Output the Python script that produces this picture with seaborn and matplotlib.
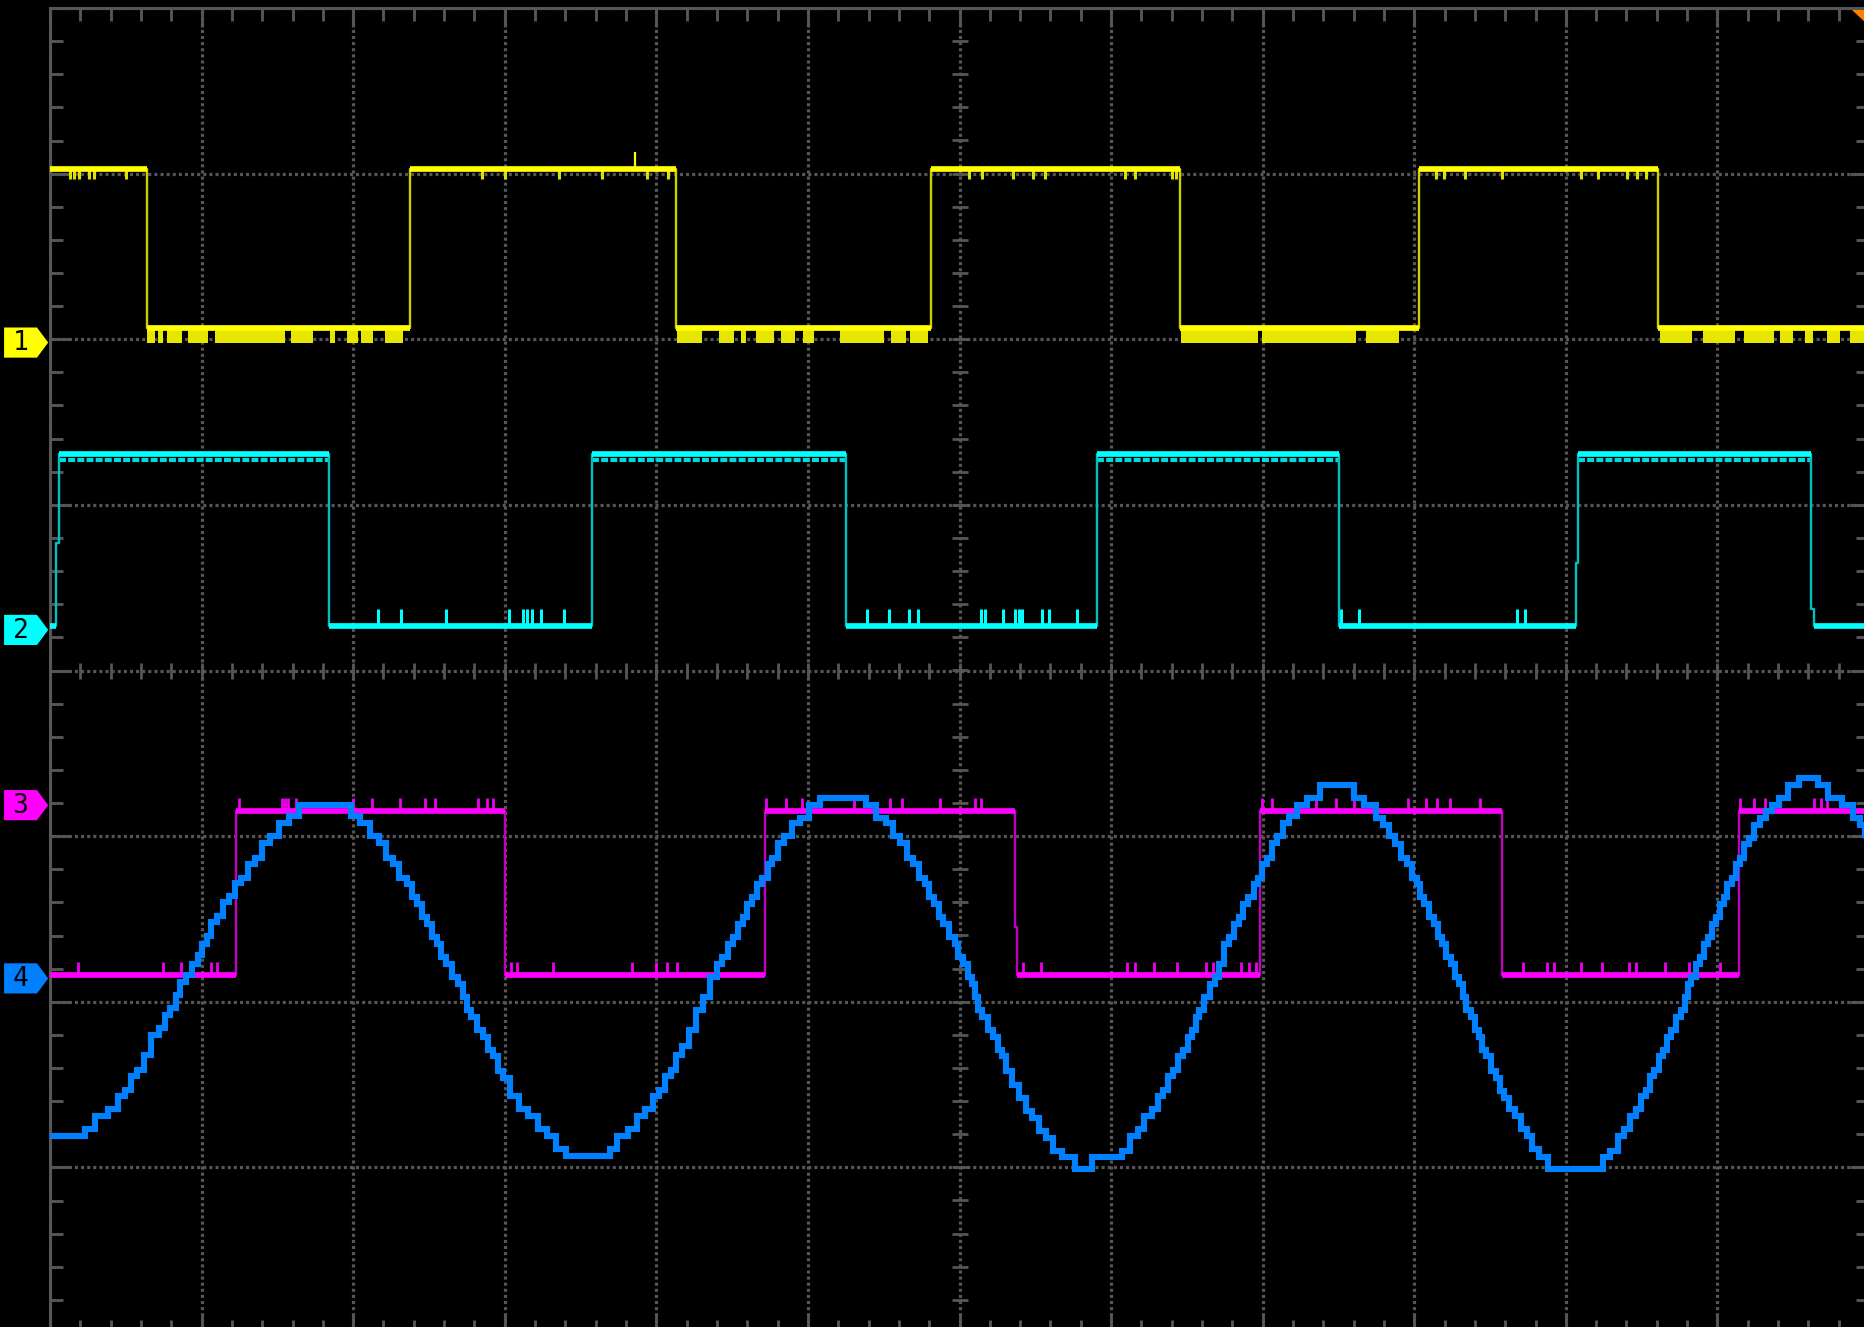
import numpy as np
import pandas as pd
import matplotlib
matplotlib.use("Agg")
import matplotlib.pyplot as plt
from matplotlib.patches import Polygon
from matplotlib.ticker import MultipleLocator
import seaborn as sns

# ---------------- data (screen divisions: x 0..12, y -4..4) ----------------
# CH1 (yellow): level i holds from edge i to edge i+1
ch1_edges = [0.0, 0.64, 2.375, 4.13, 5.814, 7.454, 9.031, 10.605, 12.0]
ch1_levels = [3.03, 2.07, 3.03, 2.07, 3.03, 2.07, 3.03, 2.07]
ch1_high_spikes = [0.13, 0.16, 0.19, 0.26, 0.29, 0.50, 2.85, 3.0, 3.36, 3.64, 3.94,
                   4.08, 6.06, 6.15, 6.356, 6.485, 6.567, 7.093, 7.155, 7.40, 7.43,
                   9.144, 9.196, 9.335, 9.582, 10.098, 10.21, 10.402, 10.469, 10.531]
ch1_up_glitch = [3.86]
ch1_low_noise = [[0.64, 0.693], [0.712, 0.745], [0.772, 0.871], [0.910, 1.042],
                 [1.088, 1.55], [1.59, 1.735], [1.847, 1.88], [1.959, 2.032],
                 [2.051, 2.131], [2.21, 2.328],
                 [4.134, 4.299], [4.412, 4.515], [4.557, 4.593], [4.66, 4.773],
                 [4.825, 4.918], [4.969, 5.041], [5.211, 5.505], [5.546, 5.649],
                 [5.675, 5.794],
                 [7.464, 7.969], [7.995, 8.613], [8.68, 8.897],
                 [10.624, 10.83], [10.902, 11.113], [11.175, 11.371], [11.412, 11.5],
                 [11.577, 11.629], [11.722, 11.809], [11.876, 11.98]]

# CH2 (cyan)
ch2_edges = [0.0, 0.038, 0.061, 1.838, 3.576, 5.253, 6.908, 8.505, 10.064, 10.079,
             11.619, 11.638, 12.0]
ch2_levels = [0.27, 0.77, 1.31, 0.27, 1.31, 0.27, 1.31, 0.27, 0.65, 1.31, 0.37, 0.27]
ch2_low_spikes = [2.167, 2.316, 2.615, 3.025, 3.12, 3.15, 3.18, 3.239, 3.392, 5.39,
                  5.532, 5.666, 5.727, 6.14, 6.17, 6.288, 6.364, 6.39, 6.414, 6.547,
                  6.592, 6.775, 8.52, 8.638, 9.676, 9.729]

# CH3 (magenta)
ch3_edges = [0.0, 1.227, 3.003, 4.72, 6.364, 6.378, 7.981, 9.577, 11.143, 12.0]
ch3_levels = [-1.84, -0.85, -1.84, -0.85, -1.55, -1.84, -0.85, -1.84, -0.85]
ch3_high_spikes = [1.248, 1.53, 1.55, 1.57, 1.62, 2.0, 2.124, 2.307, 2.477, 2.539,
                   2.825, 2.881, 2.922, 4.725, 4.854, 4.962, 5.305, 5.542, 5.623,
                   5.871, 6.102, 6.143, 7.995, 8.062, 8.353, 8.485, 8.603, 8.96,
                   9.078, 9.147, 9.238, 9.432, 11.15, 11.24, 11.316, 11.64, 11.684,
                   11.72, 11.81]
ch3_low_spikes = [0.186, 0.746, 0.864, 1.059, 1.099, 3.04, 3.081, 3.318, 3.838, 4.0,
                  4.073, 4.135, 6.42, 6.539, 7.105, 7.159, 7.280, 7.437, 7.623, 7.671,
                  7.86, 7.908, 7.954, 9.72, 9.879, 9.919, 10.1, 10.24, 10.42, 10.46,
                  10.656, 10.81, 11.02]

# CH4 (blue) sampled trace
ch4_t = [0.0, 0.205, 0.259, 0.340, 0.420, 0.474, 0.515, 0.555, 0.596, 0.642, 0.690,
         0.744, 0.776, 0.811, 0.846, 0.873, 0.919, 0.960, 0.987, 1.022, 1.049, 1.081,
         1.121, 1.162, 1.202, 1.243, 1.283, 1.323, 1.377, 1.418, 1.485, 1.539, 1.620,
         1.660, 1.809, 1.957, 2.011, 2.078, 2.146, 2.199, 2.240, 2.280, 2.329, 2.375,
         2.402, 2.442, 2.469, 2.509, 2.536, 2.571, 2.590, 2.631, 2.671, 2.712, 2.733,
         2.765, 2.792, 2.841, 2.873, 2.906, 2.941, 2.968, 3.008, 3.062, 3.129, 3.183,
         3.251, 3.305, 3.372, 3.439, 3.561, 3.682, 3.709, 3.776, 3.844, 3.898, 3.951,
         4.005, 4.032, 4.086, 4.113, 4.140,
         4.194, 4.234, 4.288, 4.329, 4.383, 4.423, 4.450, 4.491, 4.518, 4.558, 4.585,
         4.612, 4.652, 4.674, 4.720, 4.747, 4.782, 4.827, 4.863, 4.922, 4.976, 5.043,
         5.111, 5.230, 5.353, 5.407, 5.488, 5.542, 5.582, 5.636, 5.677, 5.704, 5.757,
         5.784, 5.811, 5.852, 5.871, 5.906, 5.960, 5.978, 6.008, 6.040, 6.075, 6.094,
         6.113, 6.135, 6.167, 6.210, 6.237, 6.270, 6.296, 6.323, 6.372, 6.418, 6.458,
         6.499, 6.553, 6.593, 6.647, 6.701, 6.822, 6.930, 7.051, 7.092, 7.159, 7.199,
         7.240, 7.294, 7.321, 7.361, 7.388, 7.429, 7.456, 7.488, 7.523, 7.550, 7.569,
         7.590, 7.631, 7.671, 7.698, 7.725, 7.765, 7.792, 7.827, 7.859, 7.886, 7.927,
         7.954, 7.981, 8.008, 8.048, 8.075, 8.116, 8.156, 8.197, 8.251, 8.332,
         8.418, 8.584, 8.620, 8.715, 8.774, 8.810, 8.857, 8.893, 8.929, 8.969, 9.007,
         9.029, 9.048, 9.083, 9.112, 9.143, 9.173, 9.195, 9.226, 9.254, 9.280, 9.309,
         9.333, 9.352, 9.392, 9.411, 9.439, 9.456, 9.487, 9.523, 9.551, 9.582, 9.606,
         9.641, 9.689, 9.724, 9.760, 9.796, 9.855, 9.914, 10.075, 10.235, 10.259,
         10.318, 10.366, 10.401, 10.444, 10.485, 10.508, 10.544, 10.563, 10.603,
         10.627, 10.658, 10.675, 10.710, 10.746, 10.770, 10.800, 10.817, 10.841,
         10.876, 10.900, 10.924, 10.948, 10.979, 11.007, 11.031, 11.055, 11.078,
         11.114, 11.133, 11.166, 11.190, 11.228, 11.257, 11.304, 11.340, 11.375,
         11.435, 11.494, 11.589, 11.637, 11.684, 11.778, 11.862, 11.921, 11.957, 11.985]
ch4_v = [-2.81, -2.81, -2.77, -2.69, -2.65, -2.57, -2.53, -2.45, -2.41, -2.32, -2.20,
         -2.16, -2.08, -2.04, -1.96, -1.88, -1.84, -1.77, -1.72, -1.65, -1.60, -1.52,
         -1.48, -1.40, -1.36, -1.28, -1.25, -1.17, -1.13, -1.04, -1.00, -0.92, -0.88,
         -0.81, -0.81, -0.81, -0.88, -0.92, -1.00, -1.04, -1.13, -1.17, -1.25, -1.29,
         -1.37, -1.41, -1.49, -1.53, -1.61, -1.65, -1.73, -1.77, -1.85, -1.89, -1.97,
         -2.05, -2.09, -2.17, -2.21, -2.29, -2.33, -2.42, -2.46, -2.57, -2.65, -2.69,
         -2.77, -2.81, -2.89, -2.93, -2.93, -2.93, -2.89, -2.81, -2.77, -2.69, -2.65,
         -2.57, -2.53, -2.45, -2.41, -2.32,
         -2.27, -2.17, -2.05, -1.97, -1.85, -1.77, -1.73, -1.65, -1.61, -1.53, -1.49,
         -1.41, -1.37, -1.29, -1.25, -1.17, -1.13, -1.04, -1.00, -0.92, -0.89, -0.81,
         -0.77, -0.77, -0.77, -0.81, -0.89, -0.92, -1.00, -1.04, -1.13, -1.17, -1.25,
         -1.29, -1.37, -1.41, -1.49, -1.53, -1.61, -1.65, -1.73, -1.77, -1.85, -1.89,
         -1.97, -2.05, -2.09, -2.17, -2.21, -2.29, -2.33, -2.42, -2.50, -2.58, -2.66,
         -2.70, -2.78, -2.82, -2.90, -2.94, -3.01, -2.94, -2.94, -2.90, -2.81, -2.77,
         -2.69, -2.65, -2.57, -2.53, -2.45, -2.41, -2.33, -2.29, -2.21, -2.17, -2.09,
         -2.05, -1.97, -1.89, -1.85, -1.77, -1.65, -1.61, -1.53, -1.49, -1.41, -1.37,
         -1.29, -1.25, -1.17, -1.13, -1.04, -1.00, -0.92, -0.88, -0.81, -0.77,
         -0.69, -0.69, -0.77, -0.81, -0.89, -0.93, -1.00, -1.05, -1.13, -1.17, -1.25,
         -1.29, -1.37, -1.41, -1.49, -1.53, -1.61, -1.65, -1.73, -1.77, -1.85, -1.89,
         -1.97, -2.05, -2.09, -2.17, -2.21, -2.29, -2.33, -2.42, -2.46, -2.54, -2.58,
         -2.65, -2.69, -2.77, -2.81, -2.89, -2.94, -3.01, -3.01, -3.01, -2.94,
         -2.90, -2.81, -2.77, -2.69, -2.65, -2.57, -2.53, -2.45, -2.41,
         -2.33, -2.29, -2.21, -2.17, -2.09, -2.05, -1.97, -1.89, -1.85,
         -1.77, -1.73, -1.65, -1.61, -1.53, -1.49, -1.41, -1.37, -1.29,
         -1.25, -1.17, -1.13, -1.05, -1.01, -0.93, -0.89, -0.85, -0.81,
         -0.77, -0.69, -0.65, -0.65, -0.69, -0.77, -0.81, -0.89, -0.93, -1.00]

# channel reference markers
marker_labels = ["1", "2", "3", "4"]
marker_levels = [1.98, 0.245, -0.813, -1.859]

# ---------------- style ----------------
YEL, YEL_E = "#FFFF00", "#CFCF00"
CYA, CYA_E = "#00FFFF", "#00BFBF"
MAG, MAG_E = "#FF00FF", "#BF00BF"
BLU = "#0080FF"
GRAY = "#565656"
marker_colors = [YEL, CYA, MAG, BLU]

sns.set_theme(style="dark", rc={"axes.facecolor": "black", "figure.facecolor": "black"})
plt.rcParams["lines.scale_dashes"] = False

W, H = 1864, 1327
fig = plt.figure(figsize=(W / 100, H / 100), dpi=100)
fig.patch.set_facecolor("black")
ax = fig.add_axes([50 / W, 1 - 1333 / H, 1819 / W, 1325 / H])
ax.set_facecolor("black")
ax.set_xlim(0, 12)
ax.set_ylim(-4, 4)

# frame, ticks, grid
for s in ax.spines.values():
    s.set_color(GRAY)
    s.set_linewidth(2.2)
ax.xaxis.set_major_locator(MultipleLocator(1))
ax.yaxis.set_major_locator(MultipleLocator(1))
ax.xaxis.set_minor_locator(MultipleLocator(0.2))
ax.yaxis.set_minor_locator(MultipleLocator(0.2))
ax.tick_params(which="both", direction="in", top=True, right=True, bottom=True, left=True,
               labelbottom=False, labelleft=False, color=GRAY, width=2.1)
ax.tick_params(which="major", length=14)
ax.tick_params(which="minor", length=9.4)
ax.grid(which="major", color=GRAY, linestyle=(0, (2.2, 2.2)), linewidth=2.3)
ax.set_axisbelow(True)

# center cross minor ticks
cx = np.arange(0.2, 12, 0.2)
ax.plot(cx, np.zeros_like(cx), ls="none", marker="|", ms=11.5, mew=2.0, color=GRAY, zorder=1)
cy = np.arange(-3.8, 4, 0.2)
ax.plot(np.full_like(cy, 6.0), cy, ls="none", marker="_", ms=11.0, mew=2.0, color=GRAY, zorder=1)


def step_frame(edges, levels):
    xs, ys = [], []
    for i, lv in enumerate(levels):
        xs += [edges[i], edges[i + 1]]
        ys += [lv, lv]
    return pd.DataFrame({"t": xs, "v": ys})


def level_frame(edges, levels, min_len=0.03):
    rows = []
    for i, lv in enumerate(levels):
        if edges[i + 1] - edges[i] >= min_len:
            rows.append((edges[i], lv, i))
            rows.append((edges[i + 1], lv, i))
    return pd.DataFrame(rows, columns=["t", "v", "seg"])


def draw_square(edges, levels, col, col_e, z):
    sns.lineplot(data=step_frame(edges, levels), x="t", y="v", sort=False, estimator=None,
                 color=col_e, linewidth=1.7, ax=ax, zorder=z)
    sns.lineplot(data=level_frame(edges, levels), x="t", y="v", units="seg", estimator=None,
                 sort=False, color=col, linewidth=4.1, ax=ax, zorder=z + 0.1,
                 solid_capstyle="butt")


# CH1
ax.vlines(ch1_high_spikes, 2.965, 3.03, color="#E0E000", lw=2.2, zorder=2)
ax.vlines(ch1_up_glitch, 3.03, 3.13, color=YEL, lw=1.6, zorder=2)
for a, b in ch1_low_noise:
    ax.fill_between([a, b], 1.98, 2.06, color="#E6E600", lw=0, zorder=2)
draw_square(ch1_edges, ch1_levels, YEL, YEL_E, 3)

# CH2
for i, lv in enumerate(ch2_levels):
    if lv > 1.2 and ch2_edges[i + 1] - ch2_edges[i] > 0.5:
        ax.hlines(1.27, ch2_edges[i], ch2_edges[i + 1], color="#00DADA", lw=3.0,
                  linestyles=[(0, (5.0, 1.6))], zorder=3)
ax.vlines(ch2_low_spikes, 0.27, 0.37, color=CYA, lw=2.2, zorder=3)
draw_square(ch2_edges, ch2_levels, CYA, CYA_E, 4)

# CH3
ax.vlines(ch3_high_spikes, -0.85, -0.77, color="#EE00EE", lw=2.0, zorder=5)
ax.vlines(ch3_low_spikes, -1.84, -1.76, color="#EE00EE", lw=2.0, zorder=5)
draw_square(ch3_edges, ch3_levels, MAG, MAG_E, 5)

# CH4
ch4 = pd.DataFrame({"t": ch4_t, "v": ch4_v})
sns.lineplot(data=ch4, x="t", y="v", estimator=None, color=BLU, linewidth=4.4,
             drawstyle="steps-mid", ax=ax, zorder=7, solid_joinstyle="miter")

# channel markers at the left edge
for lab, lv, col in zip(marker_labels, marker_levels, marker_colors):
    poly = Polygon([(-0.303, lv + 0.091), (-0.086, lv + 0.091), (-0.012, lv),
                    (-0.086, lv - 0.091), (-0.303, lv - 0.091)], closed=True,
                   facecolor=col, edgecolor="none", clip_on=False, zorder=10)
    ax.add_patch(poly)
    ax.text(-0.195, lv - 0.005, lab, ha="center", va="center", fontsize=19,
            family="DejaVu Sans Mono", color="black", clip_on=False, zorder=11)

# trigger marker top-right
ax.add_patch(Polygon([(11.887, 3.988), (11.99, 3.988), (11.99, 3.905)], closed=True,
                     facecolor="#FF8000", edgecolor="none", clip_on=False, zorder=10))

ax.set_xlabel("")
ax.set_ylabel("")
fig.savefig("out.png", dpi=100, facecolor="black")
